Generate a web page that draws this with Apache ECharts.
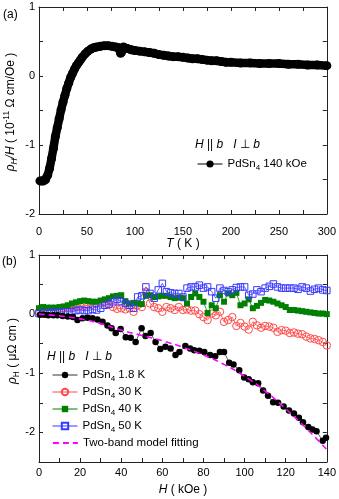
<!DOCTYPE html>
<html><head><meta charset="utf-8">
<script src="https://cdn.jsdelivr.net/npm/echarts@6/dist/echarts.min.js"></script>
<style>html,body{margin:0;padding:0;background:#fff}#c{width:339px;height:499px}</style>
</head><body><div id="c"></div>
<script>
// ---- Panel (a): rho_H/H vs T at 140 kOe ----
const tempK = [1,3,5,7,9,11,13,15,17,19,21,23,25,27,29,31,33,35,37,39,41,43,45,48,51,54,57,60,64,68,72,76,80,83,85,86,88,92,96,100,105,110,115,120,125,130,135,140,145,150,155,160,165,170,175,180,185,190,195,200,210,220,230,240,250,260,270,280,290,300];
const rhoOverH = [-1.52,-1.52,-1.52,-1.50,-1.44,-1.34,-1.20,-1.05,-0.88,-0.75,-0.62,-0.49,-0.38,-0.28,-0.18,-0.10,-0.02,0.04,0.10,0.15,0.19,0.23,0.27,0.32,0.36,0.39,0.41,0.42,0.43,0.44,0.44,0.43,0.42,0.41,0.33,0.34,0.42,0.40,0.38,0.37,0.36,0.35,0.34,0.33,0.31,0.30,0.29,0.28,0.28,0.27,0.26,0.25,0.25,0.24,0.23,0.22,0.22,0.21,0.20,0.20,0.19,0.19,0.18,0.18,0.18,0.17,0.17,0.16,0.16,0.15];

// ---- Panel (b): rho_H vs H ----
const fieldK1p8 = [0.5,2.5,4.5,7,9,11.5,14,16.5,18.7,21.2,23.6,26,28.4,30.9,33.3,35.3,37.3,39.7,42.2,44.6,47,49.9,51.8,54.3,56.7,59,61.5,64,66.4,68.3,71.2,73.5,75.5,78,80.4,83.2,85.7,88,90,92.5,94.6,97.4,99.8,102,104,106.6,109,111.4,113.9,116.3,119,121.6,124,126.4,128.4,131,133,135,138,139.6];
const rhoK1p8 = [-0.01,-0.01,-0.02,-0.02,-0.02,-0.03,-0.04,-0.05,-0.10,-0.07,-0.06,-0.07,-0.09,-0.13,-0.19,-0.24,-0.32,-0.25,-0.39,-0.40,-0.47,-0.24,-0.37,-0.32,-0.47,-0.59,-0.55,-0.58,-0.69,-0.64,-0.54,-0.58,-0.61,-0.62,-0.64,-0.69,-0.71,-0.64,-0.64,-0.82,-0.85,-0.95,-1.07,-1.10,-1.15,-1.17,-1.29,-1.38,-1.49,-1.50,-1.56,-1.63,-1.68,-1.75,-1.83,-1.91,-1.95,-1.98,-2.14,-2.09];

const fieldK = [0,2,4,6,8,10,12,14,16,18,20,22,24,26,28,30,32,34,36,38,40,42,44,46,48,50,52,54,56,58,60,62,64,66,68,70,72,74,76,78,80,82,84,86,88,90,92,94,96,98,100,102,104,106,108,110,112,114,116,118,120,122,124,126,128,130,132,134,136,138,140];
const rhoK30 = [0.04,0.05,0.07,0.07,0.08,0.09,0.10,0.11,0.12,0.13,0.14,0.14,0.15,0.16,0.18,0.19,0.21,0.16,0.12,0.09,0.10,0.08,0.10,0.04,0.15,0.12,0.38,0.18,0.12,0.10,0.04,0.12,0.10,0.07,0.12,0.07,0.08,0.06,0.06,0.00,-0.05,-0.10,0.01,-0.02,0.04,-0.13,-0.10,-0.05,-0.20,-0.15,-0.21,-0.26,-0.13,-0.19,-0.23,-0.20,-0.21,-0.23,-0.30,-0.27,-0.28,-0.32,-0.31,-0.33,-0.34,-0.38,-0.41,-0.42,-0.44,-0.47,-0.53];
const rhoK40 = [0.10,0.12,0.11,0.11,0.11,0.12,0.13,0.15,0.18,0.20,0.22,0.23,0.22,0.21,0.21,0.23,0.25,0.27,0.30,0.31,0.32,0.22,0.18,0.19,0.18,0.17,0.31,0.32,0.29,0.30,0.31,0.31,0.29,0.27,0.28,0.27,0.18,0.29,0.35,0.29,0.21,0.02,0.15,0.10,0.32,0.21,0.35,0.32,0.36,0.15,0.18,0.25,0.10,0.14,0.19,0.24,0.23,0.21,0.18,0.15,0.12,0.07,0.07,0.06,0.05,0.04,0.03,0.02,0.01,0.01,0.00];
const rhoK50 = [0.01,0.02,0.02,0.03,0.04,0.04,0.04,0.04,0.04,0.06,0.07,0.06,0.06,0.08,0.07,0.10,0.15,0.17,0.21,0.25,0.21,0.18,0.15,0.10,0.29,0.31,0.46,0.35,0.27,0.41,0.52,0.38,0.36,0.35,0.35,0.29,0.44,0.46,0.46,0.49,0.44,0.46,0.38,0.27,0.44,0.40,0.38,0.41,0.45,0.46,0.46,0.32,0.34,0.41,0.38,0.44,0.47,0.51,0.46,0.44,0.44,0.44,0.44,0.42,0.46,0.44,0.39,0.42,0.44,0.41,0.40];
const fitField = [0,10,20,30,40,50,60,70,80,90,100,110,120,130,140];
const fitRho = [0,-0.03,-0.08,-0.16,-0.27,-0.36,-0.45,-0.56,-0.69,-0.85,-1.05,-1.30,-1.60,-1.93,-2.29];

const xTicksA = [0,50,100,150,200,250,300];
const xTicksB = [0,20,40,60,80,100,120,140];
const yTicksA = [-2,-1,0,1];
const yTicksB = [-2,-1,0,1];

const zip = (a,b)=>a.map((v,i)=>[v,b[i]]);
const FF = "'Liberation Sans', Arial, sans-serif";
const AX = '#222';

function rich(fs){
  return {
    n:{fontFamily:FF,fontSize:fs,lineHeight:16,color:'#000'},
    i:{fontFamily:FF,fontSize:fs,fontStyle:'italic',lineHeight:16,color:'#000'},
    s:{fontFamily:FF,fontSize:fs*0.7,lineHeight:8,verticalAlign:'bottom',color:'#000'},
    si:{fontFamily:FF,fontSize:fs*0.7,fontStyle:'italic',lineHeight:8,verticalAlign:'bottom',color:'#000'},
    p:{fontFamily:FF,fontSize:fs*0.7,lineHeight:8,verticalAlign:'top',color:'#000'}
  };
}

function xAxisPair(grid,min,max,interval,labels,margin){
  const base = {gridIndex:grid,type:'value',min:min,max:max,interval:interval,
    axisLine:{show:true,onZero:false,lineStyle:{color:AX,width:1}},
    axisTick:{show:true,inside:true,length:4,lineStyle:{color:AX}},
    splitLine:{show:false}};
  return [
    Object.assign({},base,{position:'bottom',axisLabel:{margin:margin,fontFamily:FF,fontSize:11,color:'#000',
      formatter:v=>labels.includes(v)?String(v):''}}),
    Object.assign({},base,{position:'top',axisLabel:{show:false}})
  ];
}
function yAxisPair(grid,min,max,interval,labels){
  const base = {gridIndex:grid,type:'value',min:min,max:max,interval:interval,
    axisLine:{show:true,onZero:false,lineStyle:{color:AX,width:1}},
    axisTick:{show:true,inside:true,length:4,lineStyle:{color:AX}},
    splitLine:{show:false}};
  return [
    Object.assign({},base,{position:'left',axisLabel:{margin:4,fontFamily:FF,fontSize:11,color:'#000',
      formatter:v=>labels.includes(v)?String(v):''}}),
    Object.assign({},base,{position:'right',axisLabel:{show:false}})
  ];
}

const chart = echarts.init(document.getElementById('c'),null,{renderer:'canvas'});

function legendAt(name,left,top,fmt,lw){
  return {data:[name],left:left,top:top,padding:0,orient:'vertical',itemWidth:25,itemHeight:8,itemGap:0,
    selectedMode:false,
    lineStyle:{width:lw||1},
    textStyle:{fontFamily:FF,fontSize:11.5,rich:rich(11.5)},
    formatter:()=>fmt};
}

const fitLegend = legendAt('Two-band model fitting',52,437,'{n|Two-band model fitting}',1.8);
fitLegend.itemStyle = {opacity:0};

const option = {
  animation:false,
  backgroundColor:'#fff',
  grid:[
    {left:39,top:7,width:289,height:207},
    {left:39,top:255,width:289,height:207}
  ],
  xAxis:[].concat(xAxisPair(0,0,300,25,xTicksA,12), xAxisPair(1,0,140,10,xTicksB,5)),
  yAxis:[].concat(yAxisPair(0,-2,1,0.5,yTicksA), yAxisPair(1,-2.5,1,0.5,yTicksB)),
  legend:[
    Object.assign(legendAt('PdSn4 140 kOe',197,158,'{n|PdSn}{s|4}{n| 140 kOe}'),{itemHeight:9}),
    legendAt('PdSn4 1.8 K',52,369,'{n|PdSn}{s|4}{n| 1.8 K}'),
    legendAt('PdSn4 30 K',52,386,'{n|PdSn}{s|4}{n| 30 K}'),
    legendAt('PdSn4 40 K',52,403,'{n|PdSn}{s|4}{n| 40 K}'),
    legendAt('PdSn4 50 K',52,420,'{n|PdSn}{s|4}{n| 50 K}'),
    fitLegend
  ],
  series:[
    {name:'PdSn4 140 kOe',type:'line',xAxisIndex:0,yAxisIndex:0,data:zip(tempK,rhoOverH),
      symbol:'circle',symbolSize:9,color:'#000',itemStyle:{color:'#000'},lineStyle:{color:'#000',width:8.5},z:3},
    {name:'PdSn4 30 K',type:'line',xAxisIndex:2,yAxisIndex:2,data:zip(fieldK,rhoK30),
      symbol:'circle',symbolSize:7.5,color:'#ff4a4a',
      itemStyle:{color:'rgba(255,255,255,0)',borderColor:'#ff4a4a',borderWidth:1},
      lineStyle:{color:'#ff4a4a',width:0.8}},
    {name:'PdSn4 40 K',type:'line',xAxisIndex:2,yAxisIndex:2,data:zip(fieldK,rhoK40),
      symbol:'rect',symbolSize:6,color:'#008000',itemStyle:{color:'#008000'},
      lineStyle:{color:'#008000',width:0.8}},
    {name:'PdSn4 50 K',type:'line',xAxisIndex:2,yAxisIndex:2,data:zip(fieldK,rhoK50),
      symbol:'rect',symbolSize:6.5,color:'#3838ff',
      itemStyle:{color:'rgba(255,255,255,0)',borderColor:'#3838ff',borderWidth:1},
      lineStyle:{color:'#3838ff',width:0.8}},
    {name:'PdSn4 1.8 K',type:'line',xAxisIndex:2,yAxisIndex:2,data:zip(fieldK1p8,rhoK1p8),
      symbol:'circle',symbolSize:6.5,color:'#000',itemStyle:{color:'#000'},
      lineStyle:{color:'#333',width:0.8}},
    {name:'Two-band model fitting',type:'line',xAxisIndex:2,yAxisIndex:2,data:zip(fitField,fitRho),
      smooth:true,symbol:'none',color:'#ff00ff',lineStyle:{color:'#ff00ff',width:1.6,type:[6,4]},z:4}
  ],
  graphic:[
    {type:'text',x:3,y:15,style:{text:'(a)',font:"12px "+FF,fill:'#000',verticalAlign:'middle'}},
    {type:'text',x:2,y:262,style:{text:'(b)',font:"12px "+FF,fill:'#000',verticalAlign:'middle'}},
    {type:'text',x:11,y:112,rotation:Math.PI/2,style:{
      text:'{i|ρ}{si|H}{i|/H}{n| ( 10}{p|-11}{n| Ω cm/Oe )}',rich:rich(12),align:'center',verticalAlign:'middle'}},
    {type:'text',x:13,y:351,rotation:Math.PI/2,style:{
      text:'{i|ρ}{s|H}{n| ( μΩ cm )}',rich:rich(12),align:'center',verticalAlign:'middle'}},
    {type:'text',x:183,y:244,style:{text:'{i|T}{n| ( K )}',rich:rich(12),align:'center',verticalAlign:'middle'}},
    {type:'text',x:183,y:490,style:{text:'{i|H}{n| ( kOe )}',rich:rich(12),align:'center',verticalAlign:'middle'}},
    {type:'text',x:195,y:145,style:{text:'{i|H}{n| || }{i|b}{n|   }{i|I}{n| ⊥ }{i|b}',rich:rich(12),verticalAlign:'middle'}},
    {type:'text',x:47,y:357,style:{text:'{i|H}{n| || }{i|b}{n|   }{i|I}{n| ⊥ }{i|b}',rich:rich(12),verticalAlign:'middle'}}
  ]
};
chart.setOption(option);
</script></body></html>
